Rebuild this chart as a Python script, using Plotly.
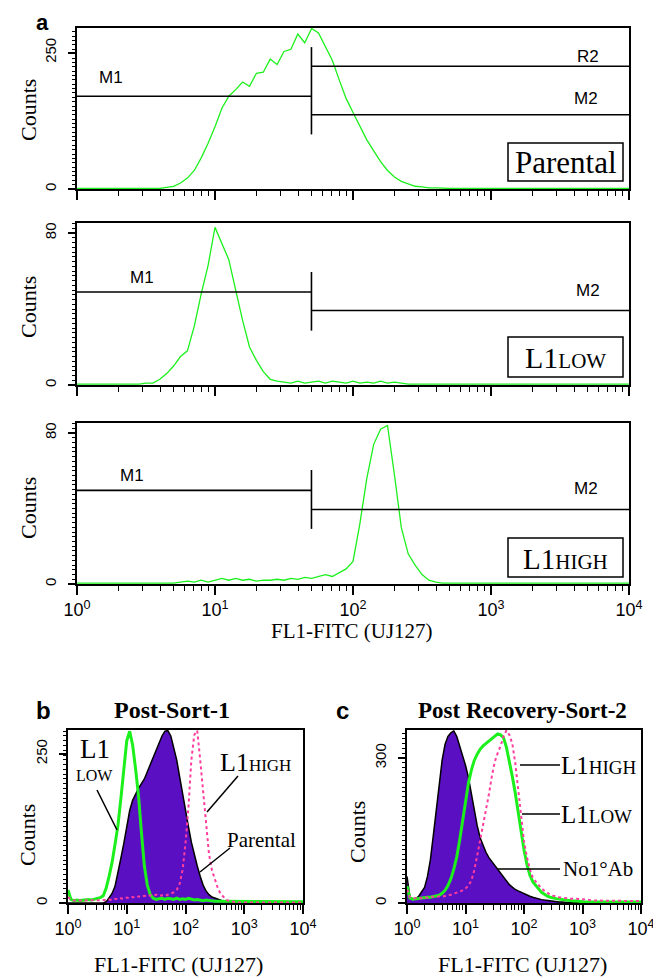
import plotly.graph_objects as go

W, H = 661, 979          # browser window
PAGE_OFFSET = 8          # default body margin of the html page
FW, FH = W - PAGE_OFFSET, H - PAGE_OFFSET

# ---------------- data ----------------
LOG_CHANNEL = [0.0, 0.05, 0.1, 0.15, 0.2, 0.25, 0.3, 0.35, 0.4, 0.45,
               0.5, 0.55, 0.6, 0.65, 0.7, 0.75, 0.8, 0.85, 0.9, 0.95,
               1.0, 1.05, 1.1, 1.15, 1.2, 1.25, 1.3, 1.35, 1.4, 1.45,
               1.5, 1.55, 1.6, 1.65, 1.7, 1.75, 1.8, 1.85, 1.9, 1.95,
               2.0, 2.05, 2.1, 2.15, 2.2, 2.25, 2.3, 2.35, 2.4, 2.45,
               2.5, 2.55, 2.6, 2.65, 2.7, 2.75, 2.8, 2.85, 2.9, 2.95,
               3.0, 3.05, 3.1, 3.15, 3.2, 3.25, 3.3, 3.35, 3.4, 3.45,
               3.5, 3.55, 3.6, 3.65, 3.7, 3.75, 3.8, 3.85, 3.9, 3.95, 4.0]

# panel a (top) : Parental
A_PARENTAL = [1, 1, 1, 1, 1, 1, 1, 1, 1, 1,
              1, 2, 1, 3, 5, 11, 20, 34, 57, 84,
              114, 148, 170, 182, 196, 188, 212, 214, 238, 228,
              252, 256, 284, 268, 294, 286, 262, 236, 200, 166,
              140, 116, 90, 70, 50, 34, 22, 14, 9, 5,
              4, 2, 2, 1, 1, 1, 1, 1, 1, 1,
              1, 1, 1, 1, 1, 1, 1, 1, 1, 1,
              1, 1, 1, 1, 1, 1, 1, 1, 1, 1, 1]
# panel a (middle) : L1 LOW
A_LOW = [0.5, 0.5, 0.5, 0.5, 0.5, 0.5, 0.5, 0.5, 0.5, 0.5,
         1, 1, 3, 6, 10, 15, 18, 31, 48, 63,
         83, 74, 66, 50, 34, 20, 13, 7, 3, 2,
         1.5, 1, 2, 1, 1.5, 2, 1, 2, 1.5, 1,
         2, 1, 1.5, 1, 2, 1, 1.5, 1, 0.5, 0.5,
         0.5, 0.5, 0.5, 0.5, 0.5, 0.5, 0.5, 0.5, 0.5, 0.5,
         0.5, 0.5, 0.5, 0.5, 0.5, 0.5, 0.5, 0.5, 0.5, 0.5,
         0.5, 0.5, 0.5, 0.5, 0.5, 0.5, 0.5, 0.5, 0.5, 0.5, 0.5]
# panel a (bottom) : L1 HIGH
A_HIGH = [0.5, 0.5, 0.5, 0.5, 0.5, 0.5, 0.5, 0.5, 0.5, 0.5,
          0.5, 0.5, 0.5, 0.5, 0.5, 1, 1.5, 1, 2, 1,
          2, 3, 2, 3, 2, 2.5, 1.5, 2, 2, 2.5,
          2, 3, 2.5, 3.5, 3, 4, 5, 4, 6, 8,
          12, 32, 56, 74, 82, 84, 58, 30, 16, 10,
          5, 2, 1, 0.5, 0.5, 0.5, 0.5, 0.5, 0.5, 0.5,
          0.5, 0.5, 0.5, 0.5, 0.5, 0.5, 0.5, 0.5, 0.5, 0.5,
          0.5, 0.5, 0.5, 0.5, 0.5, 0.5, 0.5, 0.5, 0.5, 0.5, 0.5]

# panel b : Post-Sort-1
B_PARENTAL = [0, 0, 0, 0, 0, 0, 0, 0, 0, 0,
              0, 0, 0, 2, 8, 16, 28, 50, 75, 100,
              128, 155, 172, 183, 192, 200, 208, 220, 232, 244,
              256, 268, 280, 288, 289, 280, 262, 240, 212, 182,
              155, 128, 102, 80, 62, 45, 30, 20, 14, 10,
              8, 6, 4, 3, 2, 2, 1, 0, 0, 0,
              0, 0, 0, 0, 0, 0, 0, 0, 0, 0,
              0, 0, 0, 0, 0, 0, 0, 0, 0, 0, 0]
B_LOW = [22, 6, 4, 5, 4, 5, 5, 6, 5, 6,
         7, 9, 12, 25, 45, 68, 98, 130, 175, 218,
         272, 288, 265, 225, 180, 118, 62, 30, 14, 8,
         6, 7, 8, 6, 8, 7, 6, 8, 6, 7,
         6, 8, 6, 5, 6, 5, 4, 5, 4, 4,
         3, 3, 3, 2, 2, 2, 2, 2, 2, 2,
         2, 2, 2, 2, 2, 2, 2, 2, 2, 2,
         2, 2, 2, 2, 2, 2, 2, 2, 2, 2, 2]
B_HIGH = [10, 5, 4, 4, 5, 4, 5, 4, 5, 4,
          4, 5, 4, 5, 6, 5, 7, 6, 8, 7,
          9, 8, 10, 9, 11, 10, 12, 11, 13, 12,
          14, 12, 13, 12, 14, 16, 18, 22, 32, 55,
          100, 160, 240, 282, 289, 240, 185, 125, 82, 55,
          38, 25, 15, 9, 5, 3, 2, 1, 1, 1,
          1, 1, 1, 1, 1, 1, 1, 1, 1, 1,
          1, 1, 1, 1, 1, 1, 1, 1, 1, 1, 1]

# panel c : Post Recovery-Sort-2
C_NOAB = [55, 12, 8, 9, 14, 22, 32, 55, 90, 140,
          195, 250, 295, 328, 345, 352, 356, 345, 325, 308,
          285, 260, 225, 190, 160, 135, 118, 105, 94, 86,
          78, 70, 60, 52, 44, 38, 33, 28, 25, 22,
          19, 17, 14, 12, 10, 9, 7, 6, 5, 4,
          3, 3, 2, 2, 1, 1, 1, 1, 0.5, 0.5,
          0, 0, 0, 0, 0, 0, 0, 0, 0, 0,
          0, 0, 0, 0, 0, 0, 0, 0, 0, 0, 0]
C_LOW = [35, 10, 8, 9, 10, 10, 11, 12, 12, 13,
         14, 16, 20, 26, 36, 50, 70, 95, 130, 172,
         212, 248, 275, 295, 308, 318, 325, 330, 336, 340,
         346, 350, 348, 342, 322, 295, 262, 228, 188, 148,
         110, 80, 58, 44, 36, 28, 22, 18, 14, 12,
         10, 9, 8, 7, 6, 5, 5, 4, 4, 3,
         2, 2, 2, 2, 2, 2, 2, 2, 2, 2,
         2, 2, 2, 2, 2, 2, 2, 2, 2, 2, 2]
C_HIGH = [28, 12, 10, 10, 11, 10, 12, 11, 12, 13,
          12, 14, 13, 15, 16, 17, 19, 21, 24, 26,
          30, 36, 46, 68, 98, 128, 160, 195, 225, 262,
          292, 310, 325, 345, 357, 348, 330, 290, 232, 175,
          128, 95, 70, 52, 44, 36, 30, 25, 20, 17,
          15, 13, 12, 11, 10, 10, 9, 9, 8, 8,
          8, 7, 6, 6, 5, 5, 5, 5, 5, 5,
          5, 5, 4, 4, 4, 4, 4, 4, 4, 4, 4]

# gates (marker regions) in panel a
GATE_SPLIT = 50
GATE_LEFT, GATE_RIGHT = 1, 10000
A1_GATES = dict(M1=170, R2=225, M2=136, tick=(100, 260))
A2_GATES = dict(M1=49, M2=39.2, tick=(28.6, 59.5))
A3_GATES = dict(M1=49.6, M2=39.5, tick=(29.2, 60.4))

DECADES = [1, 10, 100, 1000, 10000]
DECADE_LABELS = ["10<sup>0</sup>", "10<sup>1</sup>", "10<sup>2</sup>",
                 "10<sup>3</sup>", "10<sup>4</sup>"]
X_TITLE = "FL1-FITC (UJ127)"

FL1 = [10 ** v for v in LOG_CHANNEL]
MINOR_X = [m * 10 ** d for d in range(4) for m in range(2, 10)]

GREEN = "#1cf01c"
PURPLE = "#5a0fc2"
PINK = "#ff3d9e"
SANS = "Liberation Sans"
SERIF = "Liberation Serif"


def px(x):
    """window pixel x -> paper fraction of the figure"""
    return (x - PAGE_OFFSET) / FW


def py(y):
    """window pixel y -> paper fraction of the figure"""
    return 1 - (y - PAGE_OFFSET) / FH


# panel boxes in window pixels: (left, right, top, bottom), y range top
PANELS = {
    "a1": dict(box=(77, 629, 28, 189), ytop=295, yt=[0, 250], minor=8),
    "a2": dict(box=(77, 629, 223, 385), ytop=85.3, yt=[0, 80], minor=2.5),
    "a3": dict(box=(77, 629, 423, 584), ytop=85.3, yt=[0, 80], minor=2.5),
    "b": dict(box=(68, 303, 730, 903), ytop=290, yt=[0, 250], minor=8),
    "c": dict(box=(407, 641, 730, 903), ytop=358, yt=[0, 300], minor=10),
}
ORDER = ["a1", "a2", "a3", "b", "c"]

fig = go.Figure()
layout = dict(width=FW, height=FH, margin=dict(l=0, r=0, t=0, b=0, pad=0),
              paper_bgcolor="white", plot_bgcolor="white", showlegend=False)

for i, key in enumerate(ORDER):
    p = PANELS[key]
    l, r, t, b = p["box"]
    n = "" if i == 0 else str(i + 1)
    show_x_labels = key in ("a3", "b", "c")
    layout["xaxis" + n] = dict(
        type="log", range=[0, 4], domain=[px(l), px(r)], anchor="y" + n,
        automargin=False,
        showline=True, mirror=True, linecolor="black", linewidth=1.6,
        ticks="outside", ticklen=9, tickwidth=1.5, tickcolor="black",
        tickmode="array", tickvals=DECADES, ticktext=DECADE_LABELS,
        showticklabels=show_x_labels,
        tickfont=dict(family=SANS, size=18, color="black"),
        minor=dict(tickmode="array", tickvals=MINOR_X, ticks="outside",
                   ticklen=5, tickwidth=1.2, tickcolor="black", showgrid=False),
        showgrid=False, zeroline=False, fixedrange=True)
    layout["yaxis" + n] = dict(
        range=[0, p["ytop"]], domain=[py(b), py(t)], anchor="x" + n,
        automargin=False,
        showline=True, mirror=True, linecolor="black", linewidth=1.6,
        ticks="outside", ticklen=7, tickwidth=1.5, tickcolor="black",
        tickmode="array", tickvals=p["yt"], ticktext=[str(v) for v in p["yt"]],
        tickangle=-90, ticklabelstandoff=6,
        tickfont=dict(family=SANS, size=15, color="black"),
        minor=dict(tickmode="linear", tick0=0, dtick=p["minor"], ticks="outside",
                   ticklen=3, tickwidth=1, tickcolor="black", showgrid=False),
        showgrid=False, zeroline=False, fixedrange=True)

fig.update_layout(**layout)


def add_line(y, axn, color, width, dash="solid", fill=None, fillcolor=None):
    fig.add_trace(go.Scatter(
        x=FL1, y=y, mode="lines", xaxis="x" + axn, yaxis="y" + axn,
        line=dict(color=color, width=width, dash=dash),
        fill=fill, fillcolor=fillcolor, hoverinfo="skip"))


def add_gates(g, axn):
    blk = dict(color="black", width=1.6)
    segs = [([GATE_LEFT, GATE_SPLIT], [g["M1"], g["M1"]]),
            ([GATE_SPLIT, GATE_RIGHT], [g["M2"], g["M2"]]),
            ([GATE_SPLIT, GATE_SPLIT], list(g["tick"]))]
    if "R2" in g:
        segs.append(([GATE_SPLIT, GATE_RIGHT], [g["R2"], g["R2"]]))
    for xs, ys in segs:
        fig.add_trace(go.Scatter(x=xs, y=ys, mode="lines", line=blk,
                                 xaxis="x" + axn, yaxis="y" + axn,
                                 hoverinfo="skip", cliponaxis=False))


# panel a
add_line(A_PARENTAL, "", GREEN, 1.3)
add_gates(A1_GATES, "")
add_line(A_LOW, "2", GREEN, 1.3)
add_gates(A2_GATES, "2")
add_line(A_HIGH, "3", GREEN, 1.3)
add_gates(A3_GATES, "3")

# panel b
add_line(B_PARENTAL, "4", "black", 1.5, fill="tozeroy", fillcolor=PURPLE)
add_line(B_LOW, "4", GREEN, 3)
add_line(B_HIGH, "4", PINK, 2, dash="dot")

# panel c
add_line(C_NOAB, "5", "black", 1.5, fill="tozeroy", fillcolor=PURPLE)
add_line(C_LOW, "5", GREEN, 3)
add_line(C_HIGH, "5", PINK, 2, dash="dot")

annotations = []
shapes = []


def ann(text, x, y, size, family, xanchor="center", yanchor="middle",
        angle=0):
    annotations.append(dict(
        text=text, x=px(x), y=py(y), xref="paper", yref="paper",
        xanchor=xanchor, yanchor=yanchor, showarrow=False, textangle=angle,
        borderpad=0,
        font=dict(family=family, size=size, color="black")))


def line(x0, y0, x1, y1, w=1.5):
    shapes.append(dict(type="line", xref="paper", yref="paper",
                       x0=px(x0), y0=py(y0), x1=px(x1), y1=py(y1),
                       line=dict(color="black", width=w)))


def box(x0, y0, x1, y1):
    shapes.append(dict(type="rect", xref="paper", yref="paper",
                       x0=px(x0), y0=py(y0), x1=px(x1), y1=py(y1),
                       fillcolor="white", line=dict(color="black", width=1.5),
                       layer="above"))


# panel letters and titles
ann("<b>a</b>", 42, 9, 22, SANS, yanchor="top")
ann("<b>b</b>", 43, 710, 24, SANS)
ann("<b>c</b>", 342, 710, 24, SANS)
ann("<b>Post-Sort-1</b>", 172, 710, 24, SERIF)
ann("<b>Post Recovery-Sort-2</b>", 522, 710, 23, SERIF)

# Counts labels
for (xc, yc) in [(28, 110), (28, 307), (28, 508), (27, 835), (357, 832)]:
    ann("Counts", xc, yc, 22, SERIF, angle=-90)

# x titles
ann(X_TITLE, 352, 631, 21, SERIF)
ann(X_TITLE, 178, 964, 22, SERIF)
ann(X_TITLE, 522, 964, 22, SERIF)

# gate labels
ann("M1", 111, 77, 17, SANS)
ann("R2", 588, 57, 17, SANS)
ann("M2", 586, 99, 17, SANS)
ann("M1", 142, 277, 17, SANS)
ann("M2", 588, 290, 17, SANS)
ann("M1", 132, 475, 17, SANS)
ann("M2", 586, 489, 17, SANS)

# sample boxes in panel a
box(508, 143, 623, 181)
ann("Parental", 565.5, 163, 31, SERIF)
box(508, 337, 623, 377)
ann("L1<span style='font-size:21px'>LOW</span>", 565.5, 358, 30, SERIF)
box(508, 538, 623, 577)
ann("L1<span style='font-size:21px'>HIGH</span>", 565.5, 559, 29, SERIF)

# panel b labels and pointers
ann("L1", 95, 749, 27, SERIF)
ann("LOW", 94, 775, 16, SERIF)
line(97, 790, 117, 830)
ann("L1<span style='font-size:17px'>HIGH</span>", 219, 762, 26, SERIF,
    xanchor="left")
line(238, 776, 207, 812)
ann("Parental", 226, 840, 21, SERIF, xanchor="left")
line(230, 848, 200, 872)

# panel c labels and pointers
ann("L1<span style='font-size:19px'>HIGH</span>", 560, 765, 25, SERIF,
    xanchor="left")
line(520, 765, 560, 765)
ann("L1<span style='font-size:19px'>LOW</span>", 560, 814, 25, SERIF,
    xanchor="left")
line(522, 814, 560, 814)
ann("No1°Ab", 562, 869, 21, SERIF, xanchor="left")
line(497, 869, 560, 869)

fig.update_layout(annotations=annotations, shapes=shapes)
fig.write_html("out.html")
